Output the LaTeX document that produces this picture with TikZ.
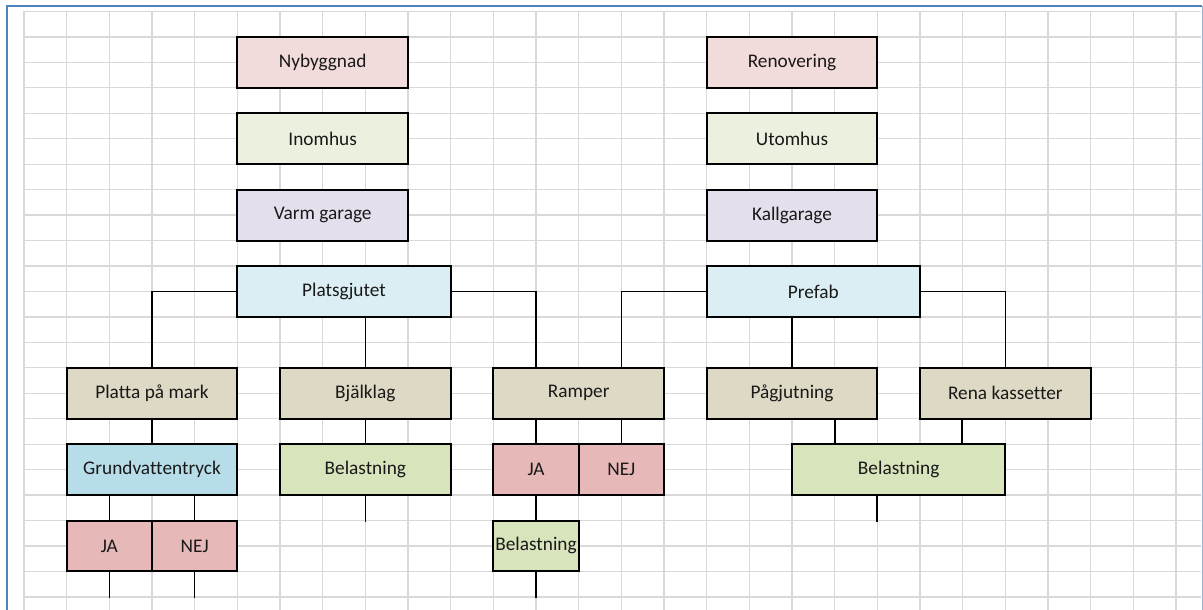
\documentclass[tikz,border=0pt]{standalone}
\usepackage{fontspec}
\setmainfont{Carlito}[Ligatures=NoCommon]
\usetikzlibrary{calc}
\definecolor{cpink}{HTML}{F2DCDB}
\definecolor{cgreen}{HTML}{EBF1DE}
\definecolor{clav}{HTML}{E4DFEC}
\definecolor{cblue}{HTML}{DAEEF3}
\definecolor{ctan}{HTML}{DDD9C4}
\definecolor{cgrund}{HTML}{B7DEE8}
\definecolor{cbel}{HTML}{D8E4BC}
\definecolor{cja}{HTML}{E6B8B7}
\definecolor{cgrid}{HTML}{D9D9D9}
\definecolor{cframe}{HTML}{4F81BD}
\definecolor{cframe2}{HTML}{95B3D7}
\tikzset{
  box/.style={draw=black, line width=2pt, inner sep=0pt, minimum height=50.9pt,
    font=\fontsize{19.3}{22}\selectfont, text=black!90},
  w4/.style={minimum width=170.67pt},
  w5/.style={minimum width=213.33pt},
  w2/.style={minimum width=85.33pt},
  conn/.style={draw=black, line width=1.4pt},
  gridline/.style={draw=cgrid, line width=1.3pt},
}
\begin{document}
\begin{tikzpicture}[x=42.667pt, y=-25.45pt]
\useasboundingbox (-24pt,11.5pt) rectangle (1179pt,-598.5pt);
\fill[white] (-24pt,11.5pt) rectangle (1179pt,-598.5pt);
% grid
\foreach \i in {0,...,27} \draw[gridline] (\i,0) -- (\i,23.6);
\foreach \j in {0,...,23} \draw[gridline] (0,\j) -- (27.59,\j);
% frame
\draw[cframe, line width=2pt] (-17pt,-598.5pt) -- (-17pt,5.5pt) -- (1178pt,5.5pt);
\draw[cframe2, line width=1pt] (1178pt,5.5pt) -- (1178pt,-598.5pt);
% boxes
\node[box,w4,fill=cpink]  (nyb)   at (7,2)    {Nybyggnad};
\node[box,w4,fill=cgreen] (ino)   at (7,5)    {Inomhus};
\node[box,w4,fill=clav]   (varm)  at (7,8)    {Varm garage};
\node[box,w5,fill=cblue]  (plats) at (7.5,11) {Platsgjutet};
\node[box,w4,fill=cpink]  (ren)   at (18,2)   {Renovering};
\node[box,w4,fill=cgreen] (uto)   at (18,5)   {Utomhus};
\node[box,w4,fill=clav]   (kall)  at (18,8)   {Kallgarage};
\node[box,w5,fill=cblue]  (pref)  at (18.5,11){Prefab};
\node[box,w4,fill=ctan]   (platta) at (3,15)  {Platta på mark};
\node[box,w4,fill=ctan]   (bjalk) at (8,15)   {Bjälklag};
\node[box,w4,fill=ctan]   (ramp)  at (13,15)  {Ramper};
\node[box,w4,fill=ctan]   (pag)   at (18,15)  {Pågjutning};
\node[box,w4,fill=ctan]   (rena)  at (23,15)  {Rena kassetter};
\node[box,w4,fill=cgrund] (grund) at (3,18)   {Grundvattentryck};
\node[box,w4,fill=cbel]   (bel1)  at (8,18)   {Belastning};
\node[box,w2,fill=cja]    (ja1)   at (12,18)  {JA};
\node[box,w2,fill=cja]    (nej1)  at (14,18)  {NEJ};
\node[box,w5,fill=cbel]   (bel3)  at (20.5,18){Belastning};
\node[box,w2,fill=cja]    (ja2)   at (2,21)   {JA};
\node[box,w2,fill=cja]    (nej2)  at (4,21)   {NEJ};
\node[box,w2,fill=cbel]   (bel2)  at (12,21)  {Belastning};
% helper coordinates
\coordinate (pagout)  at ($(pag.south)!0.5!(pag.south east)$);
\coordinate (renaout) at ($(rena.south)!0.5!(rena.south west)$);
\coordinate (bel3out) at ($(bel3.south west)!0.4!(bel3.south east)$);
\coordinate (e1) at ($(bel1.south)+(0,1)$);
\coordinate (e2) at ($(bel3out)+(0,1)$);
\coordinate (e3) at ($(ja2.south)+(0,1)$);
\coordinate (e4) at ($(nej2.south)+(0,1)$);
\coordinate (e5) at ($(bel2.south)+(0,1)$);
% connectors
\draw[conn] (plats.west) -| (platta.north);
\draw[conn] (bjalk.north |- plats.south) -- (bjalk.north);
\draw[conn] (plats.east) -| (ramp.north -| ja1.north);
\draw[conn] (pref.west) -| (ramp.north -| nej1.north);
\draw[conn] (pag.north |- pref.south) -- (pag.north);
\draw[conn] (pref.east) -| (rena.north);
\draw[conn] (platta.south) -- (grund.north);
\draw[conn] (bjalk.south) -- (bel1.north);
\draw[conn] (ja1.north |- ramp.south) -- (ja1.north);
\draw[conn] (nej1.north |- ramp.south) -- (nej1.north);
\draw[conn] (pagout) -- (pagout |- bel3.north);
\draw[conn] (renaout) -- (renaout |- bel3.north);
\draw[conn] (ja2.north |- grund.south) -- (ja2.north);
\draw[conn] (nej2.north |- grund.south) -- (nej2.north);
\draw[conn] (ja1.south) -- (bel2.north);
\draw[conn] (bel1.south) -- (e1);
\draw[conn] (bel3out) -- (e2);
\draw[conn] (ja2.south) -- (e3);
\draw[conn] (nej2.south) -- (e4);
\draw[conn] (bel2.south) -- (e5);
\end{tikzpicture}
\end{document}
